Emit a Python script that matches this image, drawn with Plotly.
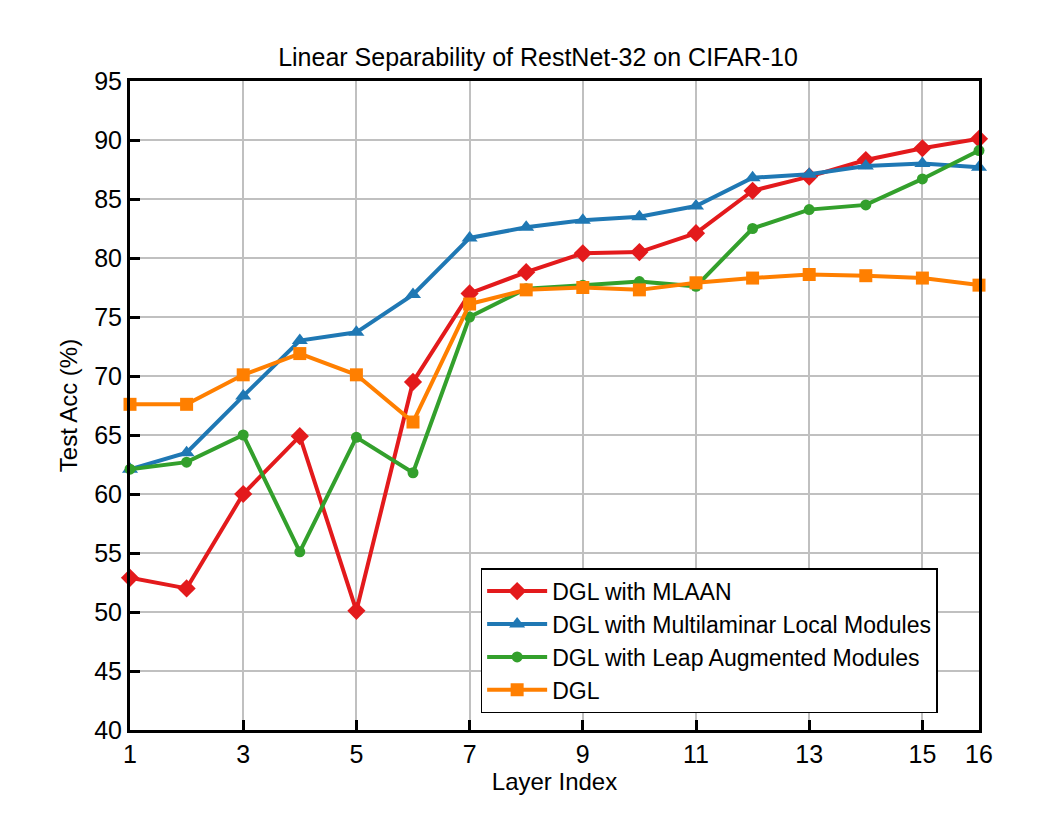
import plotly.graph_objects as go

layers = list(range(1, 17))
mlaan = [52.9, 52.0, 60.0, 64.9, 50.1, 69.5, 77.0, 78.8, 80.4, 80.5, 82.1, 85.7, 86.9, 88.3, 89.3, 90.1]
multilaminar = [62.1, 63.5, 68.3, 73.0, 73.7, 76.9, 81.7, 82.6, 83.2, 83.5, 84.4, 86.8, 87.1, 87.8, 88.0, 87.7]
leap = [62.1, 62.7, 65.0, 55.1, 64.8, 61.8, 75.0, 77.4, 77.7, 78.0, 77.6, 82.5, 84.1, 84.5, 86.7, 89.1]
dgl = [67.6, 67.6, 70.1, 71.9, 70.1, 66.1, 76.1, 77.3, 77.5, 77.3, 77.9, 78.3, 78.6, 78.5, 78.3, 77.7]

x_ticks = [1, 3, 5, 7, 9, 11, 13, 15, 16]
y_ticks = list(range(40, 96, 5))

series = [
    ("DGL with MLAAN", mlaan, "#e31a1c", "diamond", 14),
    ("DGL with Multilaminar Local Modules", multilaminar, "#1f78b4", "triangle-up", 14),
    ("DGL with Leap Augmented Modules", leap, "#33a02c", "circle", 11),
    ("DGL", dgl, "#ff7f00", "square", 13),
]

fig = go.Figure()
for name, vals, color, sym, size in series:
    fig.add_trace(go.Scatter(
        x=layers, y=vals, name=name, mode="lines+markers",
        line=dict(color=color, width=4),
        marker=dict(symbol=sym, size=size, color=color, line=dict(width=0)),
        cliponaxis=False,
    ))

font_family = "Liberation Sans, Arial, sans-serif"
fig.update_layout(
    width=1062, height=827,
    margin=dict(l=122, r=91, t=73, b=105),
    paper_bgcolor="white", plot_bgcolor="white",
    font=dict(family=font_family, size=25, color="black"),
    title=dict(text="Linear Separability of RestNet-32 on CIFAR-10", x=(538 - 8) / 1062, xanchor="center",
               y=1 - 49 / 827, yanchor="middle", font=dict(size=25)),
    legend=dict(x=0.413, y=0.026, xanchor="left", yanchor="bottom",
                bgcolor="white", bordercolor="black", borderwidth=1.5,
                font=dict(size=23), itemwidth=60, tracegroupgap=0),
)
fig.update_xaxes(
    range=[1, 16], tickvals=x_ticks, ticktext=[str(v) for v in x_ticks],
    showgrid=True, gridcolor="#c0c0c0", gridwidth=2,
    showline=True, linecolor="black", linewidth=3, mirror=True,
    ticks="inside", ticklen=10, tickwidth=3, tickcolor="black",
    zeroline=False,
    title=dict(text="Layer Index", standoff=4, font=dict(size=24)),
)
fig.update_yaxes(
    range=[40, 95], tickvals=y_ticks,
    showgrid=True, gridcolor="#c0c0c0", gridwidth=2,
    showline=True, linecolor="black", linewidth=3, mirror=True,
    ticks="inside", ticklen=10, tickwidth=3, tickcolor="black",
    zeroline=False,
    title=dict(text="Test Acc (%)", standoff=10, font=dict(size=24)),
)
fig.write_html("out.html")
